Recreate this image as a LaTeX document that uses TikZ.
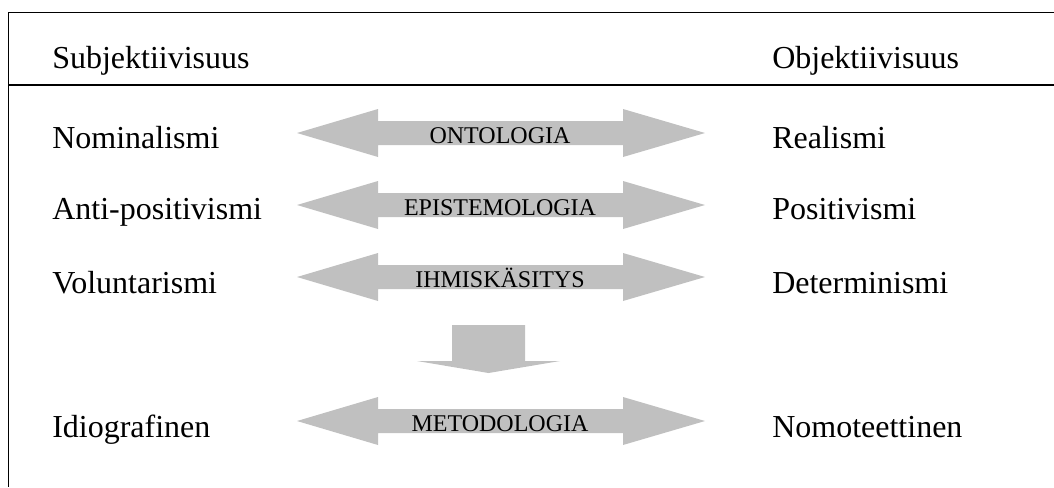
\documentclass[tikz,border=0pt]{standalone}
\usepackage{fontspec}
\setmainfont{Liberation Serif}
\begin{document}
\begin{tikzpicture}[x=0.75pt,y=-0.75pt,
  term/.style={inner sep=0pt,anchor=base west,font=\fontsize{24}{28}\selectfont},
  axislabel/.style={inner sep=0pt,anchor=base,font=\fontsize{18}{21}\selectfont},
  rule/.style={line width=1.1pt,black},
  arrowgray/.style={fill={rgb,255:red,192;green,192;blue,192}},
  pics/dblarrow/.style={code={
    \fill[arrowgray] (-204,0) -- (-123,-24) -- (-123,-12) -- (122,-12) -- (122,-24)
      -- (204,0) -- (122,24) -- (122,12) -- (-123,12) -- (-123,24) -- cycle;}}]
\useasboundingbox (0,0) rectangle (1054,487);

% frame: top rule, header rule and left edge
\coordinate (tl) at (8.5,12.5);
\coordinate (tr) at (1054,12.5);
\coordinate (hl) at (8.5,85);
\coordinate (hr) at (1054,85);
\coordinate (bl) at (8.5,487);
\draw[rule] (tr) -- (tl) -- (bl);
\draw[rule,line width=0.9pt] (hl) -- (hr);

% header
\node[term] (subj) at (52,68) {Subjektiivisuus};
\node[term] (obj) at (772,68) {Objektiivisuus};

% double arrows between the two poles
\pic at (501,133) {dblarrow};
\pic at (501,205) {dblarrow};
\pic at (501,277) {dblarrow};
\pic at (501,421) {dblarrow};

% downward arrow
\fill[arrowgray] (452,325) -- (525,325) -- (525,361) -- (560,361) -- (488.5,373)
  -- (417,361) -- (452,361) -- cycle;

% arrow labels
\node[axislabel] (onto) at (500,143) {ONTOLOGIA};
\node[axislabel] (epis) at (500,215) {EPISTEMOLOGIA};
\node[axislabel] (ihm) at (500,287) {IHMISKÄSITYS};
\node[axislabel] (met) at (500,431) {METODOLOGIA};

% subjective side
\node[term] (nom) at (52,148) {Nominalismi};
\node[term] (anti) at (52,219) {Anti-positivismi};
\node[term] (vol) at (52,293) {Voluntarismi};
\node[term] (idio) at (52,437) {Idiografinen};

% objective side
\node[term] (real) at (772,148) {Realismi};
\node[term] (pos) at (772,219) {Positivismi};
\node[term] (det) at (772,293) {Determinismi};
\node[term] (nomo) at (772,437) {Nomoteettinen};
\end{tikzpicture}
\end{document}
